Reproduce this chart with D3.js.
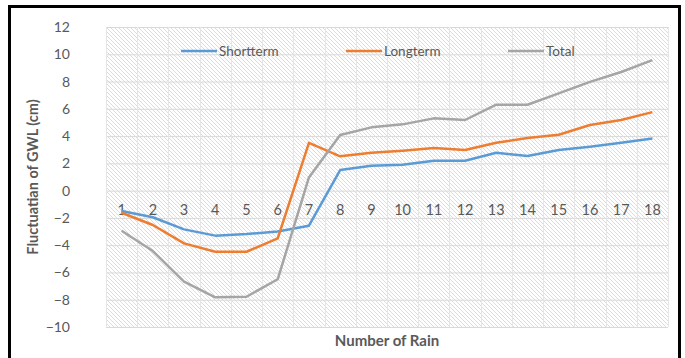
<!DOCTYPE html>
<html>
<head>
<meta charset="utf-8">
<script src="https://cdn.jsdelivr.net/npm/d3@7"></script>
<style>
  body { margin: 0; background: #fff; }
  text { font-family: Lato, "Open Sans", sans-serif; }
</style>
</head>
<body>
<script>
// data
var categories = ['1','2','3','4','5','6','7','8','9','10','11','12','13','14','15','16','17','18'];
var shortterm = [-1.5, -1.95, -2.84, -3.3, -3.18, -3.0, -2.57, 1.51, 1.83, 1.9, 2.19, 2.19, 2.78, 2.54, 2.98, 3.22, 3.51, 3.83];
var longterm  = [-1.62, -2.52, -3.87, -4.48, -4.48, -3.5, 3.51, 2.52, 2.78, 2.93, 3.12, 2.98, 3.51, 3.86, 4.1, 4.81, 5.18, 5.76];
var total     = [-2.94, -4.43, -6.68, -7.82, -7.78, -6.5, 0.97, 4.08, 4.64, 4.86, 5.3, 5.18, 6.3, 6.3, 7.13, 7.98, 8.7, 9.57];
var seriesNames = ['Shortterm', 'Longterm', 'Total'];
var colors = ['#5B9BD5', '#ED7D31', '#A5A5A5'];
var yTicks = [-10, -8, -6, -4, -2, 0, 2, 4, 6, 8, 10, 12];

var W = 685, H = 358;
var margin = { top: 27, right: 17, bottom: 31, left: 106 };
var width = W - margin.left - margin.right;
var height = H - margin.top - margin.bottom;

var svg = d3.select('body').append('svg')
	.attr('width', W)
	.attr('height', H);

// diagonal hatch for the plot area
var defs = svg.append('defs');
var pat = defs.append('pattern')
	.attr('id', 'hatch')
	.attr('patternUnits', 'userSpaceOnUse')
	.attr('width', 4)
	.attr('height', 4);
pat.append('rect').attr('width', 4).attr('height', 4).attr('fill', '#fff');
pat.append('path')
	.attr('d', 'M0,0 L4,4 M-1,3 L1,5 M3,-1 L5,1')
	.attr('stroke', '#dcdcdc')
	.attr('stroke-width', 1);

// outer black frame (bottom edge runs off the picture)
svg.append('rect')
	.attr('x', 9.5).attr('y', 6.5)
	.attr('width', 670).attr('height', 380)
	.attr('fill', 'none')
	.attr('stroke', '#000')
	.attr('stroke-width', 3);

var g = svg.append('g')
	.attr('transform', `translate(${margin.left}, ${margin.top})`);

var xScale = d3.scaleBand().domain(categories).range([0, width]).padding(0);
var yScale = d3.scaleLinear().domain([-10, 12]).range([height, 0]);

g.append('rect')
	.attr('width', width)
	.attr('height', height)
	.attr('fill', 'url(#hatch)');

// horizontal gridlines
g.append('g')
	.attr('class', 'grid')
	.call(d3.axisLeft(yScale).tickValues(yTicks).tickSize(-width).tickFormat(''))
	.call(function(s) {
		s.select('.domain').remove();
		s.selectAll('line').attr('stroke', '#d9d9d9').attr('stroke-width', 1);
	});

// vertical gridlines at category boundaries
var bounds = categories.map(function(c) { return xScale(c); }).concat([width]);
g.append('g')
	.selectAll('line')
	.data(bounds)
	.enter().append('line')
	.attr('x1', function(d) { return Math.round(d) + 0.5; })
	.attr('x2', function(d) { return Math.round(d) + 0.5; })
	.attr('y1', 0)
	.attr('y2', height)
	.attr('stroke', '#e6e6e6');

// y axis labels
g.append('g')
	.attr('transform', 'translate(-36, 0)')
	.call(d3.axisLeft(yScale).tickValues(yTicks).tickSize(0).tickPadding(0))
	.call(function(s) {
		s.select('.domain').remove();
		s.selectAll('text')
			.attr('fill', '#595959')
			.attr('font-size', 14)
			.attr('font-family', 'Lato, sans-serif');
	});

// x axis labels sit just under the zero line
g.append('g')
	.attr('transform', `translate(0, ${yScale(0)})`)
	.call(d3.axisBottom(xScale).tickSize(0).tickPadding(14))
	.call(function(s) {
		s.select('.domain').remove();
		s.selectAll('text')
			.attr('fill', '#595959')
			.attr('font-size', 14.5)
			.attr('font-family', 'Lato, sans-serif');
	});

var valueLine = d3.line()
	.x(function(d, i) { return xScale(categories[i]) + xScale.bandwidth() / 2; })
	.y(function(d) { return yScale(d); });

[shortterm, longterm, total].forEach(function(series, i) {
	g.append('path')
		.datum(series)
		.attr('fill', 'none')
		.attr('stroke', colors[i])
		.attr('stroke-width', 2.5)
		.attr('stroke-linejoin', 'round')
		.attr('d', valueLine);
});

// legend
var legendX = [181, 346, 508];
var legend = svg.append('g');
seriesNames.forEach(function(name, i) {
	legend.append('line')
		.attr('x1', legendX[i]).attr('x2', legendX[i] + 36)
		.attr('y1', 51).attr('y2', 51)
		.attr('stroke', colors[i])
		.attr('stroke-width', 2.5);
	legend.append('text')
		.attr('x', legendX[i] + 38)
		.attr('y', 56)
		.attr('fill', '#595959')
		.attr('font-size', 13.5)
		.text(name);
});

// axis titles
svg.append('text')
	.attr('x', 387).attr('y', 346)
	.attr('text-anchor', 'middle')
	.attr('font-size', 15)
	.attr('font-weight', 'bold')
	.attr('fill', '#595959')
	.text('Number of Rain');

svg.append('text')
	.attr('transform', 'translate(38, 177) rotate(-90)')
	.attr('text-anchor', 'middle')
	.attr('font-size', 14.5)
	.attr('font-weight', 'bold')
	.attr('fill', '#595959')
	.text('Fluctuatian of GWL (cm)');
</script>
</body>
</html>
